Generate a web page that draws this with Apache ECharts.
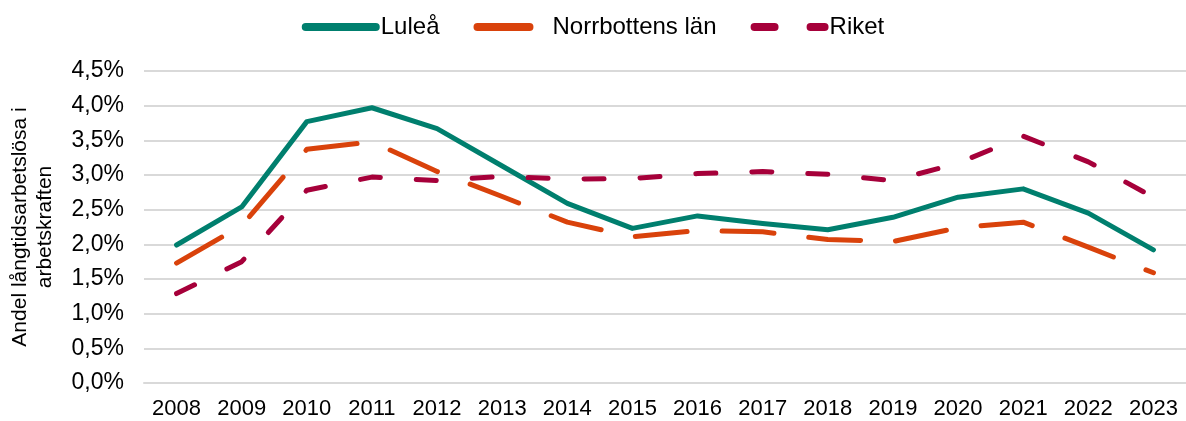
<!DOCTYPE html>
<html>
<head>
<meta charset="utf-8">
<script src="https://cdn.jsdelivr.net/npm/echarts@6/dist/echarts.min.js"></script>
<style>
  html, body { margin: 0; padding: 0; background: #fff; }
  #chart { width: 1186px; height: 421px; }
</style>
</head>
<body>
<div id="chart"></div>
<script>
// år och andel långtidsarbetslösa (%)
var years = ['2008', '2009', '2010', '2011', '2012', '2013', '2014', '2015',
             '2016', '2017', '2018', '2019', '2020', '2021', '2022', '2023'];
var lulea = [1.99, 2.54, 3.77, 3.97, 3.67, 3.13, 2.59, 2.23, 2.41, 2.30, 2.21, 2.39, 2.68, 2.80, 2.45, 1.92];
var norrbotten = [1.73, 2.27, 3.37, 3.48, 3.05, 2.69, 2.32, 2.11, 2.20, 2.18, 2.07, 2.04, 2.24, 2.32, 1.96, 1.59];
var riket = [1.29, 1.75, 2.78, 2.97, 2.92, 2.98, 2.94, 2.95, 3.02, 3.05, 3.01, 2.92, 3.17, 3.56, 3.19, 2.68];

var font = '"Liberation Sans", Arial, sans-serif';
var chart = echarts.init(document.getElementById('chart'));

function linje(name, data, color, dash) {
    return {
        name: name,
        type: 'line',
        data: data,
        symbol: 'none',
        animation: false,
        lineStyle: {color: color, width: 5, type: dash, cap: 'round', join: 'round'},
        itemStyle: {color: color}
    };
}

chart.setOption({
    textStyle: {fontFamily: font},
    legend: {
        top: 10,
        left: 'center',
        itemWidth: 70,
        itemHeight: 14,
        itemGap: 34,
        itemStyle: {opacity: 0},
        lineStyle: {width: 8},
        textStyle: {fontSize: 24, color: '#000', fontFamily: font}
    },
    grid: {left: 138, right: -2, top: 71, bottom: 38},
    xAxis: {
        type: 'category',
        data: years,
        boundaryGap: true,
        axisTick: {show: false},
        axisLine: {lineStyle: {color: '#d9d9d9', width: 2}},
        axisLabel: {fontSize: 22, color: '#000', margin: 15, fontFamily: font}
    },
    yAxis: {
        type: 'value',
        min: 0,
        max: 4.5,
        interval: 0.5,
        name: 'Andel långtidsarbetslösa i\narbetskraften',
        nameLocation: 'middle',
        nameRotate: 90,
        nameGap: 86,
        nameTextStyle: {fontSize: 21, color: '#000', lineHeight: 25, fontFamily: font},
        axisLine: {show: false},
        axisTick: {show: false},
        splitLine: {lineStyle: {color: '#d9d9d9', width: 2}},
        axisLabel: {
            fontSize: 23, color: '#000', margin: 20, fontFamily: font,
            formatter: function (v) { return v.toFixed(1).replace('.', ',') + '%'; }
        }
    },
    series: [
        linje('Luleå', lulea, '#007F6E', 'solid'),
        linje('Norrbottens län', norrbotten, '#D9420B', [52, 35]),
        linje('Riket', riket, '#A6003A', [20, 36])
    ]
});
</script>
</body>
</html>
